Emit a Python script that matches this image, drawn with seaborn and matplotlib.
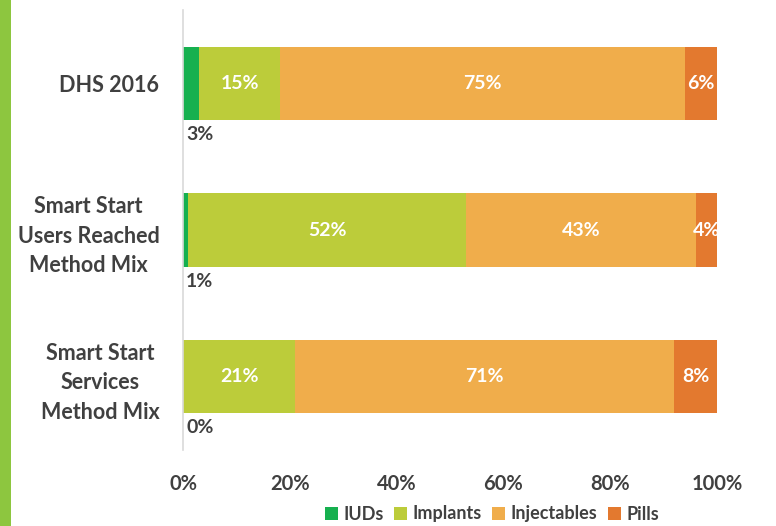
import matplotlib
matplotlib.use("Agg")
import matplotlib.pyplot as plt
import seaborn as sns
import pandas as pd
import numpy as np
from matplotlib.patches import Patch, Rectangle

categories = ["DHS 2016", "Smart Start\nUsers Reached\nMethod Mix", "Smart Start\nServices\nMethod Mix"]
methods = ["IUDs", "Implants", "Injectables", "Pills"]
iuds = [3, 1, 0]
implants = [15, 52, 21]
injectables = [75, 43, 71]
pills = [6, 4, 8]
colors = ["#16B04F", "#BCCC3A", "#F0AD4B", "#E3792F"]
xticks = [0, 20, 40, 60, 80, 100]

sns.set_theme(style="white")
plt.rcParams["font.family"] = ["Lato", "DejaVu Sans"]
plt.rcParams["font.weight"] = "bold"

vals = np.array([iuds, implants, injectables, pills], dtype=float)
shares = vals / vals.sum(axis=0) * 100
cum = np.cumsum(shares, axis=0)

fig = plt.figure(figsize=(7.76, 5.26), dpi=100)
ax = fig.add_axes([183/776, 1-450/526, (717-183)/776, 440/526])

# draw cumulative bars from the longest to shortest (stacking)
for i in range(len(methods)-1, -1, -1):
    df = pd.DataFrame({"cat": categories, "val": cum[i]})
    sns.barplot(data=df, x="val", y="cat", orient="h", color=colors[i],
                width=0.5, ax=ax, saturation=1, edgecolor="none")

ax.set_xlim(0, 100)
ax.set_ylim(2.5, -0.5)
ax.set_xlabel("")
ax.set_ylabel("")
for s in ["top", "right", "bottom"]:
    ax.spines[s].set_visible(False)
ax.spines["left"].set_color("#D9D9D9")
ax.spines["left"].set_linewidth(1.2)
ax.set_xticks(xticks)
ax.set_xticklabels([f"{t}%" for t in xticks], fontsize=14.5, color="#404040", fontweight="bold")
ax.tick_params(axis="x", length=0, pad=17)
ax.tick_params(axis="y", length=0, pad=17)
ax.set_yticks(range(len(categories)))
ax.set_yticklabels(categories, fontsize=15.5, color="#404040", fontweight="bold",
                   multialignment="center", linespacing=1.5)

# labels
for j in range(len(categories)):
    left = 0
    for i in range(len(methods)):
        w = shares[i, j]
        lab = f"{int(vals[i, j])}%"
        if i == 0:
            ax.text(0.6, j + 0.29, lab, ha="left", va="top", fontsize=14,
                    color="#404040", fontweight="bold")
        else:
            ax.text(left + w/2, j, lab, ha="center", va="center", fontsize=14,
                    color="white", fontweight="bold")
        left += w

handles = [Patch(facecolor=c, edgecolor="none", label=m) for m, c in zip(methods, colors)]
fig.legend(handles=handles, loc="center", bbox_to_anchor=(492/776, 1-514/526), ncol=4,
           frameon=False, fontsize=13, handlelength=0.7, handleheight=0.7,
           handletextpad=0.3, columnspacing=0.6, labelcolor="#404040")

fig.patches.append(Rectangle((0, 0), 11/776, 1, transform=fig.transFigure,
                             facecolor="#8DC63F", edgecolor="none"))

fig.savefig("out.png", dpi=100)
